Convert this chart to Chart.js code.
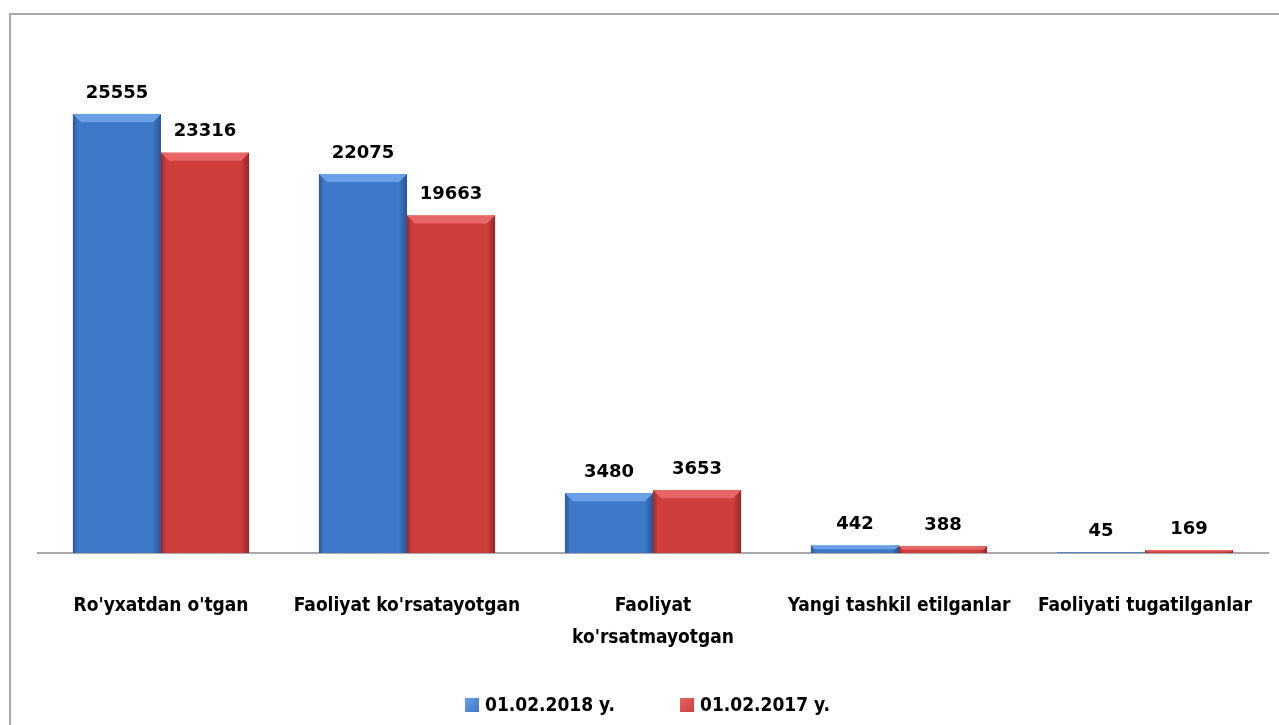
<!DOCTYPE html>
<html>
<head>
<meta charset="utf-8">
<script src="https://cdn.jsdelivr.net/npm/chart.js@4.4.1/dist/chart.umd.min.js"></script>
<style>
  body { margin: 0; background: #fff; }
  #wrap { position: relative; width: 1279px; height: 725px; overflow: hidden; }
  #frame { position: absolute; left: 9px; top: 13px; width: 1400px; height: 900px;
           border-left: 2px solid #a9a9a9; border-top: 2px solid #a9a9a9; }
  .leg { position: absolute; top: 692px; font: bold 19px "DejaVu Sans Condensed", "DejaVu Sans", sans-serif;
         color: #000; white-space: nowrap; line-height: 24px; }
  .leg i { display: inline-block; width: 14px; height: 14px; margin-right: 6px; vertical-align: -1px; }
</style>
</head>
<body>
<div id="wrap">
  <div id="frame"></div>
  <canvas id="c" width="1279" height="725" style="position:absolute;left:0;top:0;"></canvas>
  <div id="legend"></div>
</div>

<script>
const categories = [
    "Ro'yxatdan o'tgan",
    "Faoliyat ko'rsatayotgan",
    ["Faoliyat", "ko'rsatmayotgan"],
    "Yangi tashkil etilganlar",
    "Faoliyati tugatilganlar"
];
const seriesNames = ["01.02.2018 y.", "01.02.2017 y."];
const values2018 = [25555, 22075, 3480, 442, 45];
const values2017 = [23316, 19663, 3653, 388, 169];

// body / light / dark shades per series
const palette = [
    { body: '#3e78c8', light: '#6aa0e6', dark: 'rgba(30,60,110,' },
    { body: '#cd3e3c', light: '#e86666', dark: 'rgba(110,25,25,' }
];

// shaded edges + top bevel, then the value labels
const bevelPlugin = {
    id: 'bevel',
    afterDatasetsDraw(chart) {
        const ctx = chart.ctx;
        chart.data.datasets.forEach((ds, di) => {
            const p = palette[di];
            chart.getDatasetMeta(di).data.forEach(bar => {
                const x0 = bar.x - bar.width / 2, x1 = bar.x + bar.width / 2;
                const top = bar.y, h = bar.base - bar.y;
                if (h < 1) return;
                const b = Math.min(8, h / 2);
                ctx.save();
                let g = ctx.createLinearGradient(x0, 0, x0 + 5, 0);
                g.addColorStop(0, p.dark + '0.55)');
                g.addColorStop(1, p.dark + '0)');
                ctx.fillStyle = g;
                ctx.fillRect(x0, top, 5, h);
                g = ctx.createLinearGradient(x1 - 8, 0, x1, 0);
                g.addColorStop(0, p.dark + '0)');
                g.addColorStop(1, p.dark + '0.6)');
                ctx.fillStyle = g;
                ctx.fillRect(x1 - 8, top, 8, h);
                ctx.fillStyle = p.light;
                ctx.beginPath();
                ctx.moveTo(x0, top); ctx.lineTo(x1, top);
                ctx.lineTo(x1 - b, top + b); ctx.lineTo(x0 + b, top + b);
                ctx.closePath(); ctx.fill();
                ctx.restore();
            });
        });
        ctx.save();
        ctx.font = 'bold 18px "DejaVu Sans", sans-serif';
        ctx.fillStyle = '#000';
        ctx.textAlign = 'center';
        ctx.textBaseline = 'middle';
        chart.data.datasets.forEach((ds, di) => {
            chart.getDatasetMeta(di).data.forEach((bar, i) => {
                ctx.fillText(String(ds.data[i]), bar.x, bar.y - 21);
            });
        });
        ctx.restore();
    }
};

new Chart(document.getElementById('c'), {
    type: 'bar',
    data: {
        labels: categories,
        datasets: [
            { label: seriesNames[0], data: values2018, backgroundColor: palette[0].body },
            { label: seriesNames[1], data: values2017, backgroundColor: palette[1].body }
        ]
    },
    options: {
        responsive: false,
        animation: false,
        layout: { padding: { left: 38, right: 11, top: 38, bottom: 37 } },
        datasets: { bar: { categoryPercentage: 0.716, barPercentage: 1 } },
        plugins: { legend: { display: false }, tooltip: { enabled: false } },
        scales: {
            x: {
                grid: { display: false, drawTicks: false },
                border: { display: true, color: '#a9a9a9', width: 2 },
                ticks: {
                    color: '#000',
                    padding: 37,
                    maxRotation: 0,
                    autoSkip: false,
                    font: { family: '"DejaVu Sans Condensed", "DejaVu Sans", sans-serif', size: 19, weight: 'bold', lineHeight: 1.68 }
                },
                afterFit(scale) {
                    scale.height = 135;
                    scale.paddingLeft = 0;
                    scale.paddingRight = 0;
                }
            },
            y: { display: false, min: 0, max: 30000 }
        }
    },
    plugins: [bevelPlugin]
});

// legend
const legendLeft = [465, 680];
const legendEl = document.getElementById('legend');
seriesNames.forEach((name, i) => {
    const d = document.createElement('div');
    d.className = 'leg';
    d.style.left = legendLeft[i] + 'px';
    const sw = document.createElement('i');
    sw.style.background = 'linear-gradient(135deg, ' + palette[i].light + ', ' + palette[i].body + ')';
    d.appendChild(sw);
    d.appendChild(document.createTextNode(name));
    legendEl.appendChild(d);
});
</script>
</body>
</html>
